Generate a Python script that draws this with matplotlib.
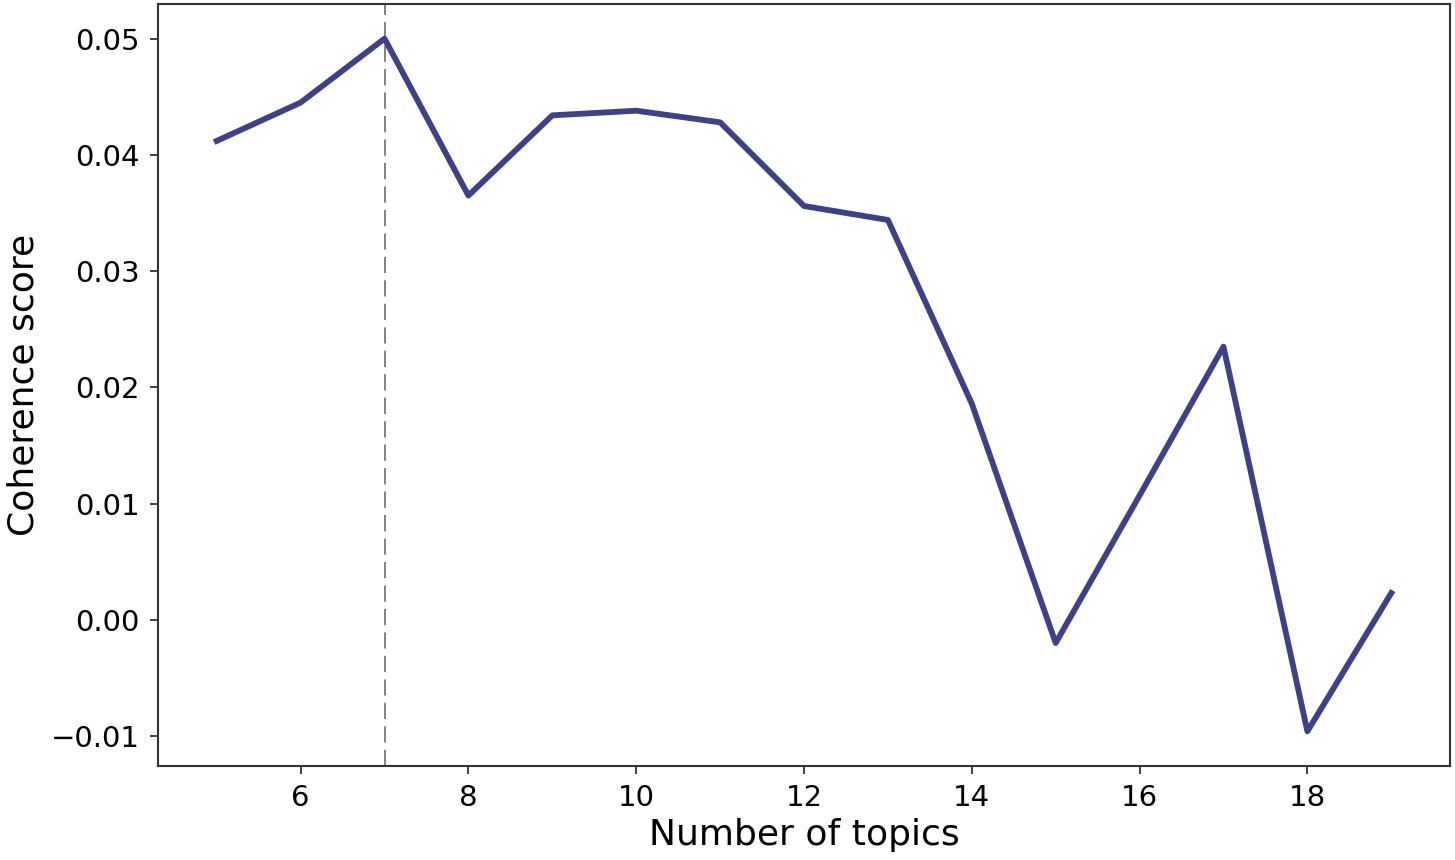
import matplotlib
matplotlib.use("Agg")
import matplotlib.pyplot as plt

# ── data ──────────────────────────────────────────────
num_topics = [5, 6, 7, 8, 9, 10, 11, 12, 13, 14, 15, 16, 17, 18, 19]
coherence = [0.0412, 0.0445, 0.0500, 0.0365, 0.0434, 0.0438, 0.0428,
             0.0356, 0.0344, 0.0186, -0.0020, 0.0107, 0.0235, -0.0096, 0.0023]
best_k = 7

LINE_COLOR = "#3d4287"
AXIS_COLOR = "#333333"

plt.rcParams["font.family"] = ["DejaVu Sans"]

fig = plt.figure(figsize=(14.55, 8.6), dpi=100)
ax = fig.add_axes([158 / 1455, 94 / 860, 1292 / 1455, 762 / 860])

ax.plot(num_topics, coherence, color=LINE_COLOR, linewidth=4.2, zorder=3)
ax.axvline(best_k, color="#777777", linestyle="--", linewidth=1.3,
           dashes=(9, 4), zorder=2)

ax.set_xticks([6, 8, 10, 12, 14, 16, 18])
ax.set_yticks([-0.01, 0.0, 0.01, 0.02, 0.03, 0.04, 0.05])
ax.tick_params(labelsize=21, length=6, width=1.3, color=AXIS_COLOR, pad=7)
for s in ax.spines.values():
    s.set_linewidth(1.5)
    s.set_color(AXIS_COLOR)

ax.set_xlabel("Number of topics", fontsize=26, labelpad=4)
ax.set_ylabel("Coherence score", fontsize=26)
ax.yaxis.set_label_coords(-0.091, 0.5)

fig.savefig("out.png", dpi=100, facecolor="white")
